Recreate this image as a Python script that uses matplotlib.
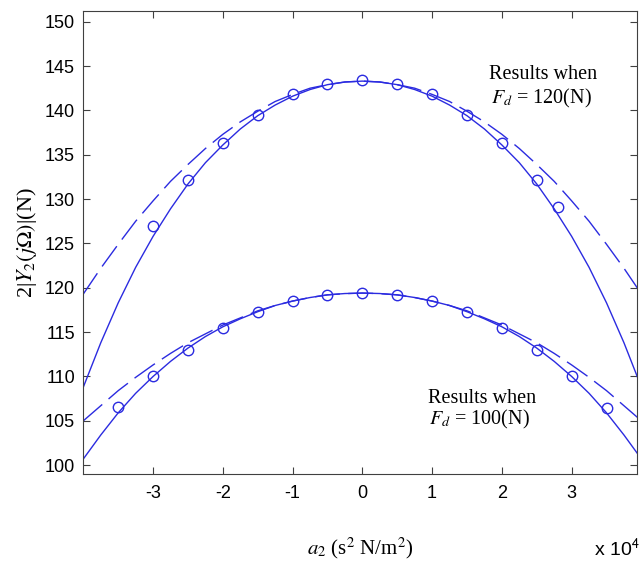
import matplotlib.pyplot as plt
import numpy as np

plt.rcParams['mathtext.fontset'] = 'stix'
plt.rcParams['axes.unicode_minus'] = False
SERIF = 'Liberation Serif'
SANS = 'Liberation Sans'
BLUE = '#2b2be0'

# a2 in units of 1e4 s^2 N/m^2
a2_curve = [-4, -3.75, -3.5, -3.25, -3, -2.75, -2.5, -2.25, -2, -1.75, -1.5, -1.25,
            -1, -0.75, -0.5, -0.25, 0, 0.25, 0.5, 0.75, 1, 1.25, 1.5, 1.75,
            2, 2.25, 2.5, 2.75, 3, 3.25, 3.5, 3.75, 4]

# Fd = 120 N
solid_120 = [108.8, 113.8, 118.3, 122.3, 125.8, 128.9, 131.7, 134.1, 136.1, 137.9, 139.4, 140.6,
             141.6, 142.35, 142.9, 143.2, 143.3, 143.2, 142.9, 142.35, 141.6, 140.6, 139.4, 137.9,
             136.1, 134.1, 131.7, 128.9, 125.8, 122.3, 118.3, 113.8, 108.8]
dashed_120 = [119.3, 122.2, 124.9, 127.5, 129.8, 132.0, 133.9, 135.7, 137.3, 138.7, 139.9, 141.0,
              141.8, 142.5, 142.9, 143.2, 143.3, 143.2, 142.9, 142.5, 141.8, 141.0, 139.9, 138.7,
              137.3, 135.7, 133.9, 132.0, 129.8, 127.5, 124.9, 122.2, 119.3]
a2_pts_120 = [-3, -2.5, -2, -1.5, -1, -0.5, 0, 0.5, 1, 1.5, 2, 2.5, 2.8]
pts_120 = [127.0, 132.2, 136.3, 139.5, 141.8, 143.0, 143.4, 143.0, 141.8, 139.5, 136.3, 132.2, 129.1]

# Fd = 100 N
solid_100 = [100.7, 103.4, 105.9, 108.1, 110.0, 111.7, 113.2, 114.5, 115.6, 116.5, 117.3, 118.0,
             118.5, 118.9, 119.2, 119.35, 119.4, 119.35, 119.2, 118.9, 118.5, 118.0, 117.3, 116.5,
             115.6, 114.5, 113.2, 111.7, 110.0, 108.1, 105.9, 103.4, 100.7]
dashed_100 = [105.0, 106.7, 108.4, 109.9, 111.3, 112.6, 113.8, 114.8, 115.8, 116.6, 117.4, 118.0,
              118.5, 118.9, 119.2, 119.34, 119.4, 119.34, 119.2, 118.9, 118.5, 118.0, 117.4, 116.6,
              115.8, 114.8, 113.8, 112.6, 111.3, 109.9, 108.4, 106.7, 105.0]
a2_pts_100 = [-3.5, -3, -2.5, -2, -1.5, -1, -0.5, 0, 0.5, 1, 1.5, 2, 2.5, 3, 3.5]
pts_100 = [106.6, 110.0, 113.0, 115.5, 117.3, 118.5, 119.2, 119.4, 119.2, 118.5,
           117.3, 115.5, 113.0, 110.0, 106.4]

fig = plt.figure(figsize=(6.41, 5.66), dpi=100)
ax = fig.add_axes([0.130, 0.1625, 0.863, 0.818])

for s, d in [(solid_120, dashed_120), (solid_100, dashed_100)]:
    ax.plot(a2_curve, s, color=BLUE, linewidth=1)
    ax.plot(a2_curve, d, color=BLUE, linewidth=1, dashes=(18, 6))
for x, y in [(a2_pts_120, pts_120), (a2_pts_100, pts_100)]:
    ax.plot(x, y, 'o', color=BLUE, markersize=7.5, markerfacecolor='none', markeredgewidth=1)

ax.text(1.81, 144.1, 'Results when', family=SERIF, fontsize=14.5, va='center')
ax.text(1.84, 141.3, '$F_d$ = 120(N)', family=SERIF, fontsize=14.5, va='center')
ax.text(0.94, 107.5, 'Results when', family=SERIF, fontsize=14.5, va='center')
ax.text(0.96, 105.1, '$F_d$ = 100(N)', family=SERIF, fontsize=14.5, va='center')

ax.set_xlim(-4.0, 3.93)
ax.set_ylim(99.0, 151.2)
ax.set_xticks([-3, -2, -1, 0, 1, 2, 3])
ax.set_yticks(np.arange(100, 151, 5))
ax.tick_params(direction='in', top=True, right=True, length=5, width=0.8,
               color='#404040', labelsize=13)
ax.tick_params(axis='x', pad=8)
ax.tick_params(axis='y', pad=6)
for lab in ax.get_xticklabels() + ax.get_yticklabels():
    lab.set_family(SANS)
for sp in ax.spines.values():
    sp.set_color('#404040')
    sp.set_linewidth(0.8)

ax.set_xlabel('$a_2$ (s$^2$ N/m$^2$)', family=SERIF, fontsize=15, labelpad=24)
ax.set_ylabel(r'2|$Y_2(j\mathit{\Omega})$|(N)', family=SERIF, fontsize=16, labelpad=4)
fig.text(0.998, 0.03, r'x 10$^{\mathsf{4}}$', family=SANS, fontsize=14, ha='right', va='center')

fig.savefig('out.png', dpi=100)
